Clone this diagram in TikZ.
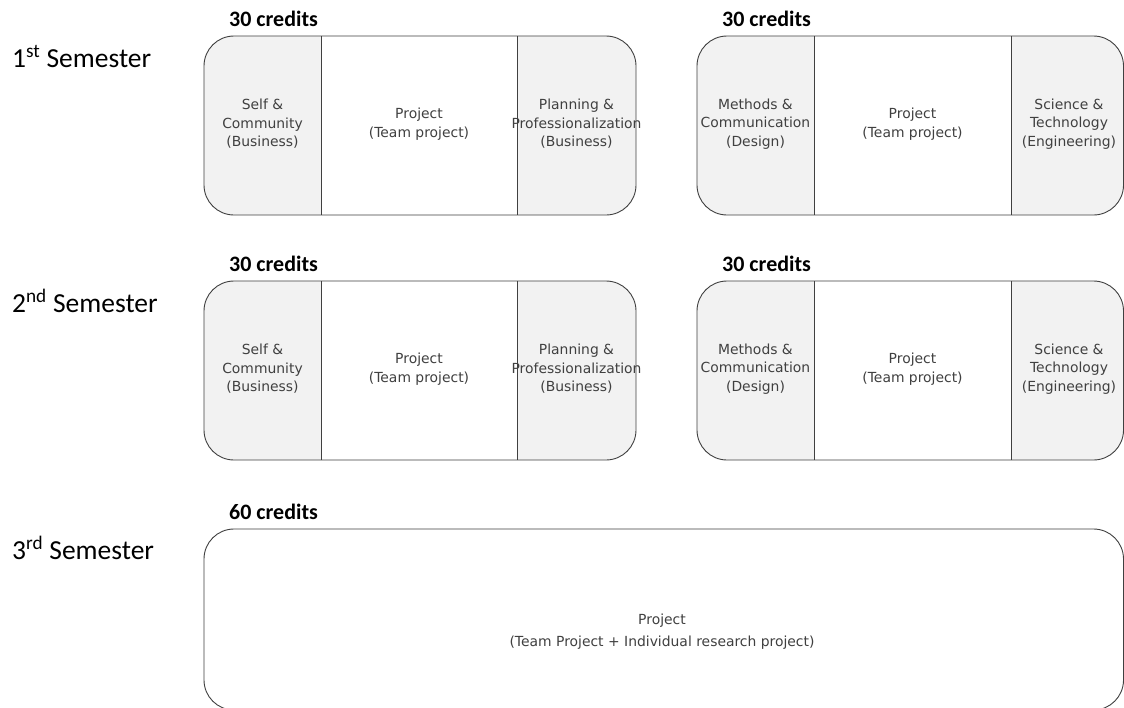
\documentclass[tikz,border=0pt]{standalone}
\usepackage{fontspec}
\setmainfont{Carlito}
\newfontfamily\cellfont{DejaVu Sans}
\definecolor{cellgray}{HTML}{F2F2F2}
\definecolor{linegray}{HTML}{404040}
\definecolor{txtgray}{HTML}{404040}
\tikzset{
  cell/.style={font=\cellfont\fontsize{13.9}{18.5}\selectfont, text=txtgray, align=center},
  bigcell/.style={font=\cellfont\fontsize{13.9}{22}\selectfont, text=txtgray, align=center},
  credits/.style={font=\bfseries\fontsize{22}{26}\selectfont, anchor=base west, inner sep=0pt},
  sem/.style={font=\fontsize{27.5}{32}\selectfont, anchor=base west, inner sep=0pt},
  outline/.style={draw=linegray, line width=0.9pt, rounded corners=30pt},
  divider/.style={draw=linegray, line width=0.9pt},
}
\begin{document}
\begin{tikzpicture}[x=1pt,y=-1pt]
\useasboundingbox (0,0) rectangle (1124,707);
\clip (0,0) rectangle (1124,707);
\fill[white] (0,0) rectangle (1124,707);

\foreach \t/\n/\sup in {36/1/st, 281/2/nd} {
  \pgfmathsetmacro\b{\t+179}
  \pgfmathsetmacro\c{\t+88}
  \pgfmathsetmacro\cb{\t-10}
  \pgfmathsetmacro\sb{\t+31}
  % left block
  \begin{scope}
    \clip[rounded corners=30pt] (204,\t) rectangle (636,\b);
    \fill[cellgray] (204,\t) rectangle (321,\b);
    \fill[cellgray] (517,\t) rectangle (636,\b);
  \end{scope}
  \draw[divider] (321,\t) -- (321,\b);
  \draw[divider] (517,\t) -- (517,\b);
  \draw[outline] (204,\t) rectangle (636,\b);
  % right block
  \begin{scope}
    \clip[rounded corners=30pt] (697,\t) rectangle (1123.5,\b);
    \fill[cellgray] (697,\t) rectangle (814,\b);
    \fill[cellgray] (1011,\t) rectangle (1124,\b);
  \end{scope}
  \draw[divider] (814,\t) -- (814,\b);
  \draw[divider] (1011,\t) -- (1011,\b);
  \draw[outline] (697,\t) rectangle (1123.5,\b);
  % texts
  \node[sem] (sem\n) at (12,\sb) {\n\textsuperscript{\sup} Semester};
  \node[credits] (crl\n) at (229,\cb) {30 credits};
  \node[credits] (crr\n) at (722,\cb) {30 credits};
  \node[cell] (self\n) at (262.5,\c) {Self \&\\Community\\(Business)};
  \node[cell] (projl\n) at (419,\c) {Project\\(Team project)};
  \node[cell] (plan\n) at (576.5,\c) {Planning \&\\Professionalization\\(Business)};
  \node[cell] (meth\n) at (755.5,\c) {Methods \&\\Communication\\(Design)};
  \node[cell] (projr\n) at (912.5,\c) {Project\\(Team project)};
  \node[cell] (sci\n) at (1069,\c) {Science \&\\Technology\\(Engineering)};
}

% third semester
\draw[outline] (204,529) rectangle (1123.5,710);
\node[sem] (sem3) at (12,559) {3\textsuperscript{rd} Semester};
\node[credits] (cr3) at (229,519) {60 credits};
\node[bigcell] (proj3) at (662,632) {Project\\(Team Project + Individual research project)};
\end{tikzpicture}
\end{document}
